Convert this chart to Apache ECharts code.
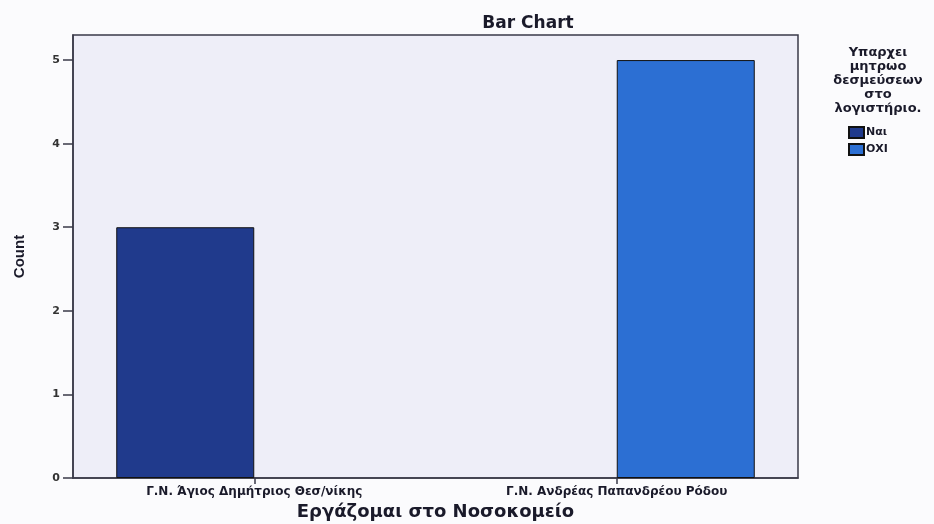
<!DOCTYPE html>
<html>
<head>
<meta charset="utf-8">
<script src="https://cdn.jsdelivr.net/npm/echarts@6/dist/echarts.min.js"></script>
<style>
  html, body { margin: 0; padding: 0; background: #fbfbfd; }
  #chart { width: 934px; height: 524px; }
</style>
</head>
<body>
<div id="chart"></div>
<script>
// Hospitals (x categories) and counts for each answer group
const hospitals = ['Γ.Ν. Άγιος Δημήτριος Θεσ/νίκης', 'Γ.Ν. Ανδρέας Παπανδρέου Ρόδου'];
const groupNames = ['Ναι', 'ΟΧΙ'];
const countsYes = [3, null];
const countsNo = [null, 5];
const yTicks = [0, 1, 2, 3, 4, 5];

const chart = echarts.init(document.getElementById('chart'));
const mainFont = 'DejaVu Sans';

chart.setOption({
  backgroundColor: '#fbfbfd',
  animation: false,
  title: [
    {
      text: 'Bar Chart',
      left: 523, top: 10,
      textAlign: 'center',
      textStyle: { fontFamily: mainFont, fontWeight: 'bold', fontSize: 17, color: '#1a1a2a' }
    },
    {
      text: 'Υπαρχει\nμητρωο\nδεσμεύσεων\nστο\nλογιστήριο.',
      left: 873, top: 41,
      textAlign: 'center',
      textStyle: { fontFamily: mainFont, fontWeight: 'bold', fontSize: 13, lineHeight: 14, color: '#1a1a2a' }
    }
  ],
  legend: {
    data: groupNames,
    orient: 'vertical',
    left: 843, top: 121,
    itemWidth: 15, itemHeight: 11, itemGap: 4,
    icon: 'rect',
    textStyle: { fontFamily: mainFont, fontWeight: 'bold', fontSize: 11, color: '#1a1a2a', padding: [0, 0, 0, -3] }
  },
  grid: {
    left: 73, right: 136, top: 35, bottom: 46,
    containLabel: false,
    outerBoundsMode: 'none',
    show: true,
    backgroundColor: '#eeeef8',
    borderColor: '#3a3a48',
    borderWidth: 1.5
  },
  xAxis: {
    type: 'category',
    data: hospitals,
    name: 'Εργάζομαι στο Νοσοκομείο',
    nameLocation: 'middle',
    nameGap: 23,
    nameTextStyle: { fontFamily: mainFont, fontWeight: 'bold', fontSize: 18, color: '#1a1a2a' },
    axisLine: { lineStyle: { color: '#3a3a48', width: 1.5 } },
    axisTick: { show: true, alignWithLabel: true, length: 6, lineStyle: { color: '#3a3a48', width: 1.5 } },
    axisLabel: { fontFamily: mainFont, fontWeight: 'bold', fontSize: 12, color: '#1a1a2a', margin: 8 },
    splitLine: { show: false }
  },
  yAxis: {
    type: 'value',
    min: 0, max: 5.3,
    name: 'Count',
    nameLocation: 'middle',
    nameGap: 46,
    nameRotate: 90,
    nameTextStyle: { fontFamily: 'Liberation Sans', fontWeight: 'bold', fontSize: 15, color: '#1a1a2a' },
    axisLine: { show: true, lineStyle: { color: '#3a3a48', width: 1.5 } },
    axisTick: { show: true, length: 10, lineStyle: { color: '#3a3a48', width: 1.5 }, customValues: yTicks },
    axisLabel: { fontFamily: mainFont, fontWeight: 'bold', fontSize: 11, color: '#333', margin: 13, customValues: yTicks },
    splitLine: { show: false }
  },
  series: [
    {
      name: groupNames[0],
      type: 'bar',
      data: countsYes,
      barWidth: 138,
      barGap: '0%',
      itemStyle: { color: '#203a8c', borderColor: '#111', borderWidth: 1 }
    },
    {
      name: groupNames[1],
      type: 'bar',
      data: countsNo,
      barWidth: 138,
      barGap: '0%',
      itemStyle: { color: '#2c6fd3', borderColor: '#111', borderWidth: 1 }
    }
  ]
});
</script>
</body>
</html>
